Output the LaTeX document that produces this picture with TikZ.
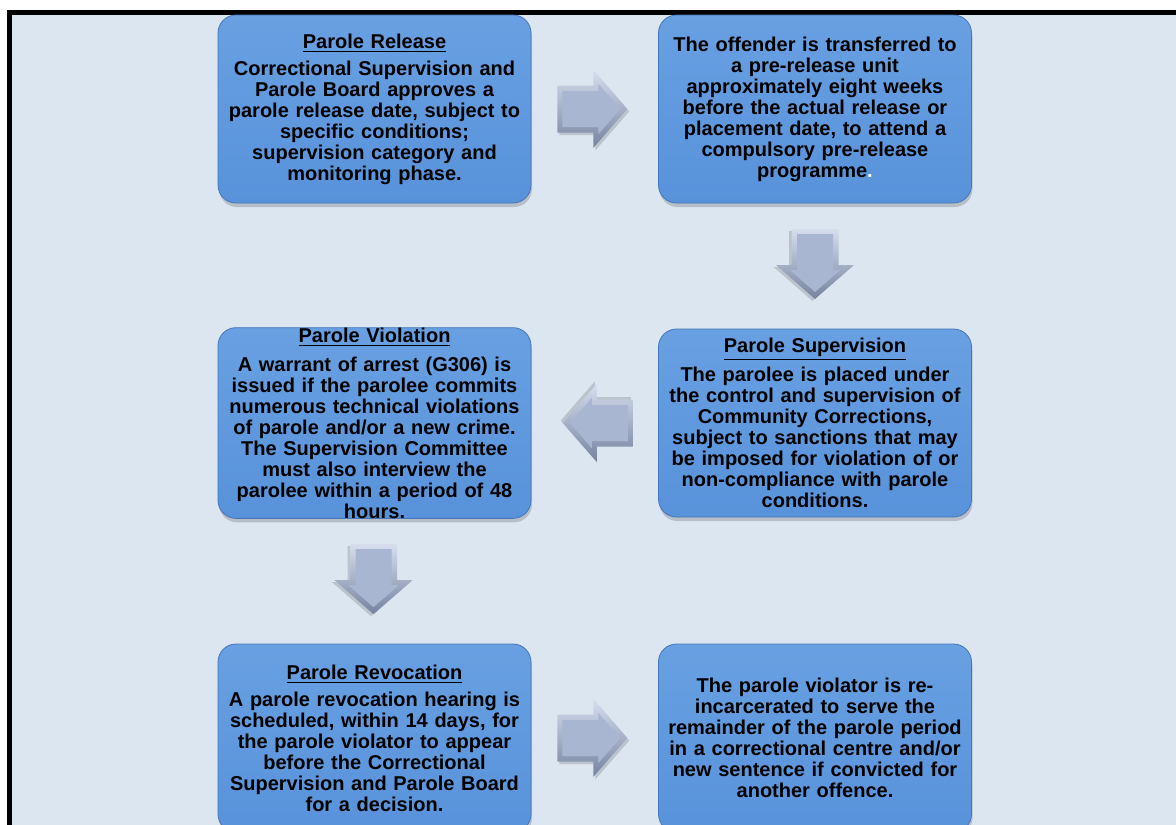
\documentclass[tikz,border=0pt]{standalone}
\usepackage{fontspec}
\setmainfont{Liberation Sans}
\usetikzlibrary{calc,shadows}

\definecolor{bgblue}{HTML}{DCE6F1}
\definecolor{boxblue}{HTML}{5892DA}
\definecolor{boxtop}{HTML}{68A0E2}
\definecolor{boxedge}{HTML}{4576B8}
\definecolor{arrowface}{HTML}{A9B6D2}
\definecolor{arrowlight}{HTML}{D6DEEE}
\definecolor{arrowdark}{HTML}{75839F}

\newcommand{\stagetitle}[1]{\vtop{\hbox{#1}\kern2.5pt\hrule height 1.5pt}}

\tikzset{
  stagebox/.style={rectangle, rounded corners=18pt, draw=boxedge, line width=0.8pt,
    top color=boxtop, bottom color=boxblue, minimum width=313pt, minimum height=188pt,
    text width=300pt, align=center, inner sep=0pt,
    font=\fontsize{20}{21}\selectfont\bfseries,
    drop shadow={shadow xshift=1pt, shadow yshift=-4pt, opacity=0.22, fill=black!80}},
  pics/flowarrow/.style={code={
    \fill[black, opacity=0.15] (-33,-21) -- (3,-21) -- (3,-36.5) -- (37,2.5) -- (3,41.5) -- (3,26) -- (-33,26) -- cycle;
    \shade[top color=arrowlight, bottom color=arrowdark] (-35,-23.5) -- (1,-23.5) -- (1,-39) -- (35,0) -- (1,39) -- (1,23.5) -- (-35,23.5) -- cycle;
    \fill[arrowface] (-30,-18) -- (6,-18) -- (6,-25.2) -- (28,0) -- (6,25.2) -- (6,18) -- (-30,18) -- cycle;
  }}
}

\begin{document}
\begin{tikzpicture}[x=1pt,y=-1pt]
	\clip (0,0) rectangle (1176,825);
	\fill[white] (0,0) rectangle (1176,825);
	\draw[line width=5pt, fill=bgblue] (9.5,12.5) rectangle (1200,850);

	\node[stagebox] (rel) at (374.5,109) {\stagetitle{Parole Release}\\[6pt]
		Correctional Supervision and\\ Parole Board approves a\\ parole release date, subject to\\
		specific conditions;\\ supervision category and\\ monitoring phase.};
	\node[stagebox] (pre) at (815,109) {The offender is transferred to\\ a pre-release unit\\
		approximately eight weeks\\ before the actual release or\\ placement date, to attend a\\
		compulsory pre-release\\ programme\textcolor{white}{.}};
	\node[stagebox] (sup) at (815,423) {\stagetitle{Parole Supervision}\\[6pt]
		The parolee is placed under\\ the control and supervision of\\ Community Corrections,\\
		subject to sanctions that may\\ be imposed for violation of or\\ non-compliance with parole\\
		conditions.};
	\node[stagebox] (vio) at (374.5,423) {\stagetitle{Parole Violation}\\[8pt]
		A warrant of arrest (G306) is\\ issued if the parolee commits\\ numerous technical violations\\
		of parole and/or a new crime.\\ The Supervision Committee\\ must also interview the\\
		parolee within a period of 48\\ hours.};
	\node[stagebox] (rev) at (374.5,738) {\stagetitle{Parole Revocation}\\[6pt]
		A parole revocation hearing is\\ scheduled, within 14 days, for\\ the parole violator to appear\\
		before the Correctional\\ Supervision and Parole Board\\ for a decision.};
	\node[stagebox] (inc) at (815,738) {The parole violator is re-\\ incarcerated to serve the\\
		remainder of the parole period\\ in a correctional centre and/or\\ new sentence if convicted for\\
		another offence.};

	\pic at ($(rel.east)!0.5!(pre.west)+(-2.5,0)$) {flowarrow};
	\pic[rotate=-90] at ($(pre.south)!0.5!(sup.north)+(0,-2)$) {flowarrow};
	\pic[rotate=180] at ($(sup.west)!0.5!(vio.east)+(3,0)$) {flowarrow};
	\pic[rotate=-90] at ($(vio.south)!0.5!(rev.north)+(-1,-2)$) {flowarrow};
	\pic at ($(rev.east)!0.5!(inc.west)+(-2.5,0)$) {flowarrow};
\end{tikzpicture}
\end{document}
